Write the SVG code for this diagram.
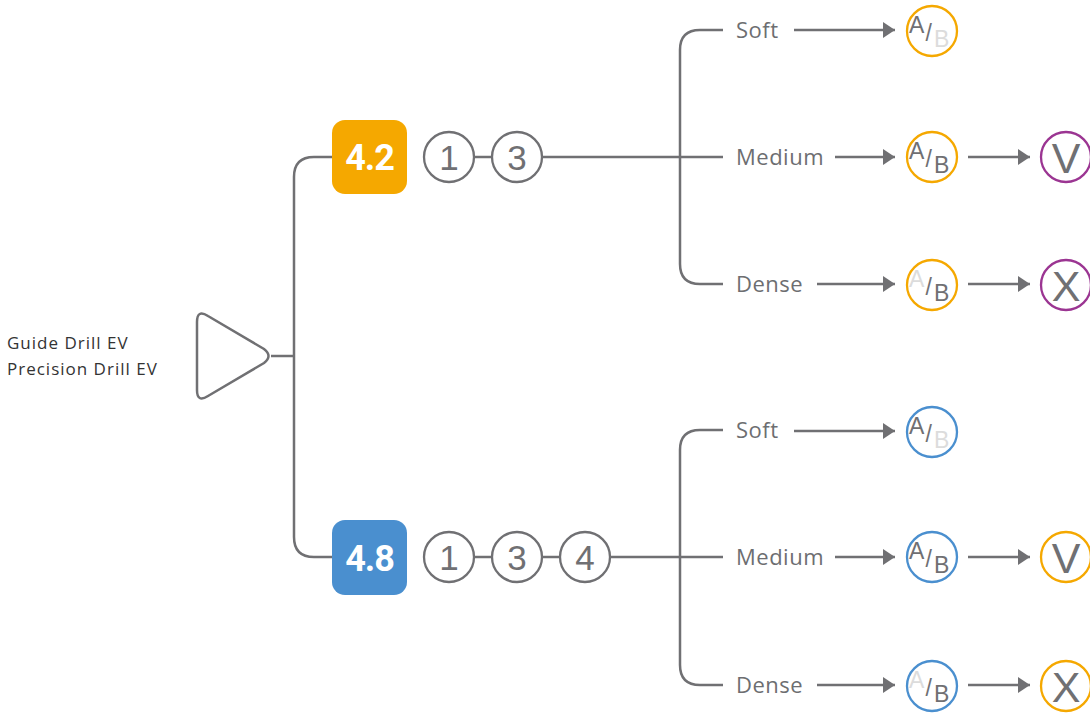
<svg xmlns="http://www.w3.org/2000/svg" width="1090" height="714" viewBox="0 0 1090 714">
<style>
.ln{fill:none;stroke:#707073;stroke-width:2.5}
.c{fill:#fff;stroke:#707073;stroke-width:2.3}
.num{font-family:"Liberation Sans",Arial,sans-serif;font-size:35px;fill:#707073;text-anchor:middle}
.lbl{font-family:"Open Sans","Noto Sans",sans-serif;font-size:22px;fill:#6d6e71;letter-spacing:0.5px}
.side{font-family:"Open Sans","Noto Sans",sans-serif;font-size:17px;fill:#333;letter-spacing:1px}
.ab{font-family:"Liberation Sans",Arial,sans-serif;font-size:23px;fill:#707073}
.dim{fill:#dcdcdc}
.bx{font-family:"Roboto","Liberation Sans",sans-serif;font-size:36px;font-weight:bold;fill:#fff;text-anchor:middle;letter-spacing:-1px}
.big{font-family:"Liberation Sans",Arial,sans-serif;font-size:43px;fill:#707073;text-anchor:middle}
.or{stroke:#F5A800}.bl{stroke:#4A8FCF}.pu{stroke:#9B3592}
</style>
<defs>
<marker id="ah" viewBox="0 0 12 16" refX="12" refY="8" markerWidth="12" markerHeight="16" markerUnits="userSpaceOnUse" orient="auto">
<path d="M0,0 L12,8 L0,16 Z" fill="#707073"/>
</marker>
</defs>
<g id="connectors">
<path class="ln" d="M271,356 H294"/>
<path class="ln" d="M332,157 H314 Q294,157 294,177 V537 Q294,557 314,557 H332"/>
<path class="ln" d="M474,157 H492"/>
<path class="ln" d="M542,157 H723"/>
<path class="ln" d="M723,30 H700 Q680,30 680,50 V264 Q680,284 700,284 H723"/>
<path class="ln" d="M474,557 H492"/>
<path class="ln" d="M542,557 H560"/>
<path class="ln" d="M610,557 H723"/>
<path class="ln" d="M723,430 H700 Q680,430 680,450 V665 Q680,685 700,685 H723"/>
<path class="ln" d="M794,30 H895" marker-end="url(#ah)"/>
<path class="ln" d="M835,157 H895" marker-end="url(#ah)"/>
<path class="ln" d="M817,284 H895" marker-end="url(#ah)"/>
<path class="ln" d="M968,157 H1030" marker-end="url(#ah)"/>
<path class="ln" d="M968,284 H1030" marker-end="url(#ah)"/>
<path class="ln" d="M794,431 H895" marker-end="url(#ah)"/>
<path class="ln" d="M835,557 H895" marker-end="url(#ah)"/>
<path class="ln" d="M817,685 H895" marker-end="url(#ah)"/>
<path class="ln" d="M968,557 H1030" marker-end="url(#ah)"/>
<path class="ln" d="M968,685 H1030" marker-end="url(#ah)"/>
</g>
<g id="label-left">
<text class="side" x="7" y="349">Guide Drill EV</text>
<text class="side" x="7" y="375">Precision Drill EV</text>
</g>
<g id="start">
<path d="M197,322 Q197,309 208,316 L264,349 Q273,356 264,363 L208,396 Q197,403 197,390 Z" fill="#fff" stroke="#707073" stroke-width="2.5"/>
</g>
<g id="box-42">
<rect x="332" y="120" width="75" height="74" rx="13" fill="#F5A800"/>
<text class="bx" x="369.5" y="170">4.2</text>
</g>
<g id="box-48">
<rect x="332" y="520" width="75" height="75" rx="13" fill="#4A8FCF"/>
<text class="bx" x="369.5" y="571">4.8</text>
</g>
<g id="s1-top"><circle class="c" cx="449" cy="157" r="25"/><text class="num" x="449" y="170">1</text></g>
<g id="s3-top"><circle class="c" cx="517" cy="157" r="25"/><text class="num" x="517" y="170">3</text></g>
<g id="s1-bot"><circle class="c" cx="449" cy="557" r="25"/><text class="num" x="449" y="570">1</text></g>
<g id="s3-bot"><circle class="c" cx="517" cy="557" r="25"/><text class="num" x="517" y="570">3</text></g>
<g id="s4-bot"><circle class="c" cx="585" cy="557" r="25"/><text class="num" x="585" y="570">4</text></g>
<g id="soft-top"><text class="lbl" x="736" y="38">Soft</text></g>
<g id="medium-top"><text class="lbl" x="736" y="165">Medium</text></g>
<g id="dense-top"><text class="lbl" x="736" y="292">Dense</text></g>
<g id="soft-bot"><text class="lbl" x="736" y="438">Soft</text></g>
<g id="medium-bot"><text class="lbl" x="736" y="565">Medium</text></g>
<g id="dense-bot"><text class="lbl" x="736" y="693">Dense</text></g>
<g id="ab-soft-top"><circle class="c or" cx="932" cy="31" r="25"/><text class="ab" x="909" y="33">A</text><text class="ab" x="925.5" y="41">/</text><text class="ab dim" x="934" y="47">B</text></g>
<g id="ab-med-top"><circle class="c or" cx="932" cy="157" r="25"/><text class="ab" x="909" y="159">A</text><text class="ab" x="925.5" y="167">/</text><text class="ab" x="934" y="173">B</text></g>
<g id="ab-dense-top"><circle class="c or" cx="932" cy="285" r="25"/><text class="ab dim" x="909" y="287">A</text><text class="ab" x="925.5" y="295">/</text><text class="ab" x="934" y="301">B</text></g>
<g id="ab-soft-bot"><circle class="c bl" cx="932" cy="432" r="25"/><text class="ab" x="909" y="434">A</text><text class="ab" x="925.5" y="442">/</text><text class="ab dim" x="934" y="448">B</text></g>
<g id="ab-med-bot"><circle class="c bl" cx="932" cy="557" r="25"/><text class="ab" x="909" y="559">A</text><text class="ab" x="925.5" y="567">/</text><text class="ab" x="934" y="573">B</text></g>
<g id="ab-dense-bot"><circle class="c bl" cx="932" cy="686" r="25"/><text class="ab dim" x="909" y="688">A</text><text class="ab" x="925.5" y="696">/</text><text class="ab" x="934" y="702">B</text></g>
<g id="v-top"><circle class="c pu" cx="1066" cy="157" r="25"/><text class="big" x="1066" y="173">V</text></g>
<g id="x-top"><circle class="c pu" cx="1066" cy="285" r="25"/><text class="big" x="1066" y="301">X</text></g>
<g id="v-bot"><circle class="c or" cx="1066" cy="557" r="25"/><text class="big" x="1066" y="573">V</text></g>
<g id="x-bot"><circle class="c or" cx="1066" cy="686" r="25"/><text class="big" x="1066" y="702">X</text></g>
</svg>
